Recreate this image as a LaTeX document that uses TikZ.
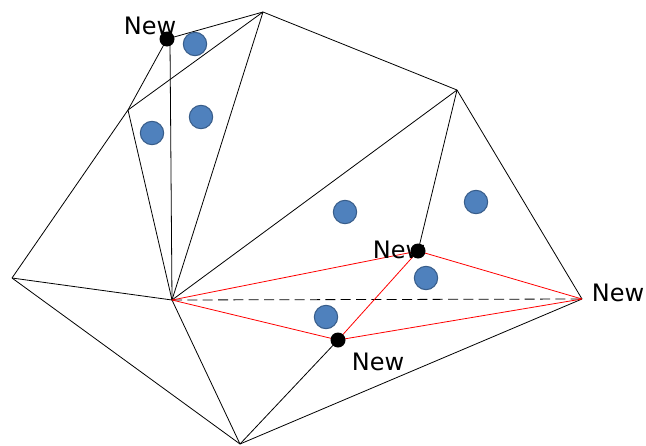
\documentclass[tikz,border=0pt]{standalone}
\usepackage{fontspec}
\setmainfont{DejaVu Sans}
\definecolor{ptfill}{HTML}{4F81BD}
\definecolor{ptline}{HTML}{385D8A}
\begin{document}
\begin{tikzpicture}[x=0.75pt,y=-0.75pt,
  edge/.style={black,line width=0.6pt},
  rededge/.style={red,line width=0.6pt},
  sample/.style={circle,fill=ptfill,draw=ptline,line width=0.8pt,minimum size=17.5pt,inner sep=0pt},
  newpt/.style={circle,fill=black,minimum size=11.25pt,inner sep=0pt},
  lbl/.style={font=\fontsize{18}{21}\selectfont,inner sep=0pt}]
\useasboundingbox (0,0) rectangle (646,446);
% vertices
\coordinate (A) at (12,278);
\coordinate (B) at (128,110);
\coordinate (C) at (167,39);
\coordinate (Cv) at (170,42);
\coordinate (D) at (263,12);
\coordinate (E) at (457,90);
\coordinate (F) at (582,299);
\coordinate (G) at (418,251);
\coordinate (H) at (172,300);
\coordinate (I) at (338,340);
\coordinate (J) at (240,444);
% black edges
\draw[edge] (A) -- (B);
\draw[edge] (B) -- (C);
\draw[edge] (C) -- (D);
\draw[edge] (B) -- (D);
\draw[edge] (D) -- (E);
\draw[edge] (E) -- (F);
\draw[edge] (F) -- (J);
\draw[edge] (J) -- (A);
\draw[edge] (A) -- (H);
\draw[edge] (B) -- (H);
\draw[edge] (Cv) -- (H);
\draw[edge] (D) -- (H);
\draw[edge] (E) -- (H);
\draw[edge] (E) -- (G);
\draw[edge] (H) -- (J);
\draw[edge] (I) -- (J);
% dashed
\draw[edge,dash pattern=on 7.5pt off 4pt] (H) -- (F);
% red edges
\draw[rededge] (H) -- (G);
\draw[rededge] (H) -- (I);
\draw[rededge] (G) -- (I);
\draw[rededge] (G) -- (F);
\draw[rededge] (I) -- (F);
% samples
\node[sample] (s1) at (195,44) {};
\node[sample] (s2) at (201,117) {};
\node[sample] (s3) at (152,133) {};
\node[sample] (s4) at (345,212) {};
\node[sample] (s5) at (476,202) {};
\node[sample] (s6) at (426,278) {};
\node[sample] (s7) at (326,317) {};
% labels
\node[lbl] (l1) at (150,26) {New};
\node[lbl] (l2) at (399,250) {New};
\node[lbl] (l3) at (378,362) {New};
\node[lbl] (l4) at (618,293) {New};
% new points
\node[newpt] (nC) at (C) {};
\node[newpt] (nG) at (G) {};
\node[newpt] (nI) at (I) {};
\end{tikzpicture}
\end{document}
